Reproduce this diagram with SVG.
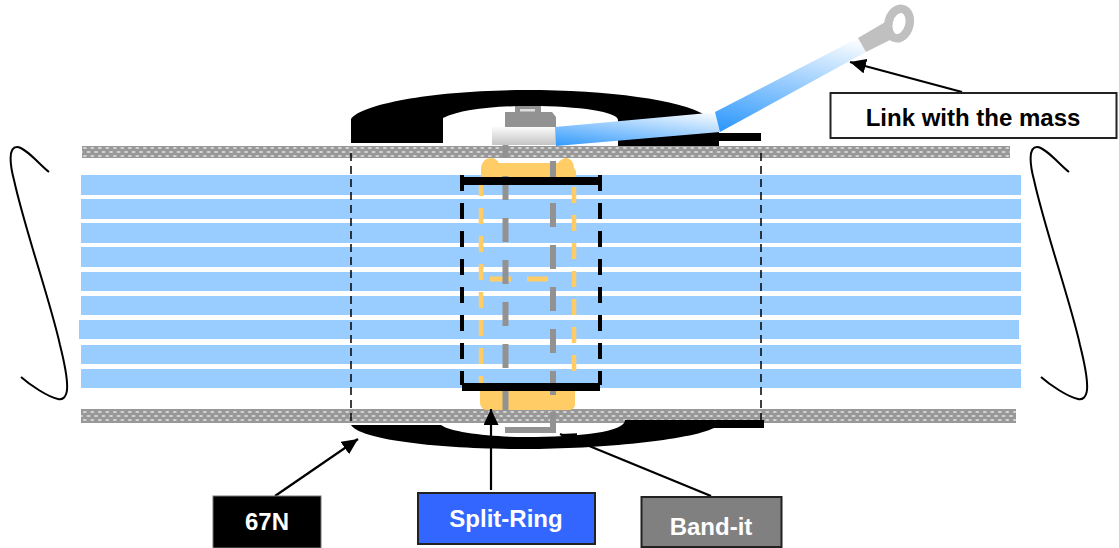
<svg xmlns="http://www.w3.org/2000/svg" width="1119" height="548" viewBox="0 0 1119 548">
<style>
.bar{fill:#99CCFF}
.hatch{fill:url(#weave)}
.lbl{font-family:"Liberation Sans",Arial,sans-serif;font-weight:700;font-size:24px;text-anchor:middle}
.conn{fill:none;stroke:#000;stroke-width:2.200;marker-end:url(#arrow)}
.guide{fill:none;stroke:#000;stroke-width:1.500;stroke-dasharray:8 5}
.curl{fill:none;stroke:#000;stroke-width:2}
.od{stroke:#FFCC66;stroke-width:4.500;stroke-dasharray:16 12;fill:none}
.gd{stroke:#929292;stroke-width:6;stroke-dasharray:24 18;fill:none}
.kd{stroke:#000;stroke-width:4;stroke-dasharray:16 12;fill:none}
</style>
<defs>
<pattern id="weave" width="7.500" height="8" patternUnits="userSpaceOnUse" x="82" y="146">
<rect width="7.500" height="8" fill="#989898"/>
<rect x="1" y="1.300" width="3.600" height="1.500" rx="0.700" fill="#e8e8e8"/>
<rect x="4.750" y="5.300" width="3.600" height="1.500" rx="0.700" fill="#e8e8e8"/>
<rect x="-2.750" y="5.300" width="3.600" height="1.500" rx="0.700" fill="#e8e8e8"/>
</pattern>
<linearGradient id="cableA" gradientUnits="userSpaceOnUse" x1="719" y1="112" x2="712" y2="168">
<stop offset="0" stop-color="#fff"/><stop offset="1" stop-color="#2a96fc"/>
</linearGradient>
<linearGradient id="cableB" gradientUnits="userSpaceOnUse" x1="858" y1="38" x2="833" y2="156">
<stop offset="0" stop-color="#fff"/><stop offset="1" stop-color="#2a96fc"/>
</linearGradient>
<linearGradient id="sleeve" x1="0" y1="0" x2="0" y2="1">
<stop offset="0" stop-color="#fbfbfb"/><stop offset="1" stop-color="#c4c4c4"/>
</linearGradient>
<marker id="arrow" markerUnits="userSpaceOnUse" markerWidth="18" markerHeight="16" refX="16" refY="7.500" orient="auto">
<path d="M0 0L16 7.500L0 15Z" fill="#000"/>
</marker>
</defs>

<g id="cable-shield-top"><rect class="hatch" x="82" y="146" width="928" height="12"/></g>
<g id="cable-shield-bottom"><rect class="hatch" x="81" y="409" width="935" height="14"/></g>

<g id="conductors">
<rect class="bar" x="81" y="175" width="940" height="20"/>
<rect class="bar" x="81" y="199" width="940" height="20"/>
<rect class="bar" x="81" y="223" width="940" height="20"/>
<rect class="bar" x="81" y="247" width="940" height="20"/>
<rect class="bar" x="81" y="272" width="940" height="19"/>
<rect class="bar" x="81" y="296" width="940" height="19"/>
<rect class="bar" x="79" y="320" width="940" height="19"/>
<rect class="bar" x="81" y="345" width="940" height="19"/>
<rect class="bar" x="81" y="369" width="940" height="19"/>
</g>

<g id="split-ring">
<path d="M481 177V168C482 161 486 158 491 158C495 158 497 160 499 163H558C560 160 563 158 567 158C571 159 574 163 574 168L576 171V177Z" fill="#FFCC66"/>
<path d="M480 390H575V404C575 408 572 410 568 410H487C483 410 480 407 480 402Z" fill="#FFCC66"/>
<line class="od" x1="481" y1="180" x2="481" y2="384"/>
<line class="od" x1="574" y1="187" x2="574" y2="384"/>
<line x1="490" y1="279" x2="549" y2="279" stroke="#FFCC66" stroke-width="5" stroke-dasharray="21 16"/>
</g>

<g id="band-it">
<rect x="502.500" y="145" width="6" height="13" fill="#929292"/>
<line class="gd" x1="505.500" y1="176" x2="505.500" y2="384"/>
<line class="gd" x1="553" y1="161" x2="553" y2="395"/>
<rect x="502.500" y="391" width="6" height="19" fill="#929292"/>
<path d="M550 412H556V433H505V427H550Z" fill="#929292"/>
<path d="M505 127V112H515V106H541V112H552L556 117V127Z" fill="#929292"/>
<rect x="520" y="109" width="15" height="2.500" fill="#dedede"/>
<rect x="492" y="127" width="64" height="18" fill="url(#sleeve)"/>
</g>

<g id="pipe-67n">
<path d="M351 143V119C362 103 440 90 525 90C610 90 680 100 705 115L719 122V133H761V141H719V146H618V120C618 112 580 106 530 106C490 106 460 110 443 118V143Z" fill="#000"/>
<path d="M351 425H441C450 432 490 437 525 437C580 437 625 432 625 420H764V428H714C690 440 600 449 525 449C440 449 360 440 351 425Z" fill="#000"/>
</g>

<g id="clamp-frame">
<rect x="462" y="177" width="138" height="8" fill="#000"/>
<rect x="462" y="383" width="138" height="8" fill="#000"/>
<line class="kd" x1="462" y1="175" x2="462" y2="385"/>
<line class="kd" x1="600" y1="175" x2="600" y2="385"/>
</g>

<g id="ground-link">
<path d="M555 127L719 112L720 132L556 146Z" fill="url(#cableA)"/>
<path d="M715 112L858 38L866 52L720 132Z" fill="url(#cableB)"/>
<path d="M858 38L887 21L894 38L866 52Z" fill="#C0C0C0"/>
<ellipse cx="899" cy="23.500" rx="10.500" ry="15" transform="rotate(15 899 23.500)" fill="none" stroke="#C0C0C0" stroke-width="8.500"/>
</g>

<g id="curls">
<path class="curl" d="M49 172C40 165 25 147 17 147C8 147 10 165 14 180C25 230 50 300 60 345C65 365 68 380 67 390C66 398 62 400 58 399C48 397 30 385 21 377"/>
<path class="curl" d="M49 172C40 165 25 147 17 147C8 147 10 165 14 180C25 230 50 300 60 345C65 365 68 380 67 390C66 398 62 400 58 399C48 397 30 385 21 377" transform="translate(1020 0)"/>
</g>

<g id="connectors">
<line class="guide" x1="351" y1="153" x2="351" y2="425"/>
<line class="guide" x1="761" y1="153" x2="761" y2="421"/>
<line class="conn" x1="275" y1="496" x2="358" y2="439"/>
<line class="conn" x1="491" y1="490" x2="491" y2="409"/>
<line class="conn" x1="711" y1="496" x2="560" y2="434"/>
<line class="conn" x1="962" y1="92" x2="850" y2="62"/>
</g>

<g id="label-mass">
<rect x="830.500" y="93" width="286" height="45" fill="#fff" stroke="#222" stroke-width="2"/>
<text class="lbl" x="973" y="126" fill="#000">Link with the mass</text>
</g>
<g id="label-67n">
<rect x="213" y="496" width="108" height="52" fill="#000" stroke="#777" stroke-width="1"/>
<text class="lbl" x="267" y="530" fill="#fff">67N</text>
</g>
<g id="label-split-ring">
<rect x="418" y="493" width="177" height="51" fill="#3366FF" stroke="#222" stroke-width="2"/>
<text class="lbl" x="506" y="527" fill="#fff">Split-Ring</text>
</g>
<g id="label-band-it">
<rect x="641.500" y="497" width="140" height="50" fill="#808080" stroke="#222" stroke-width="2"/>
<text class="lbl" x="711" y="535" fill="#fff">Band-it</text>
</g>
</svg>
